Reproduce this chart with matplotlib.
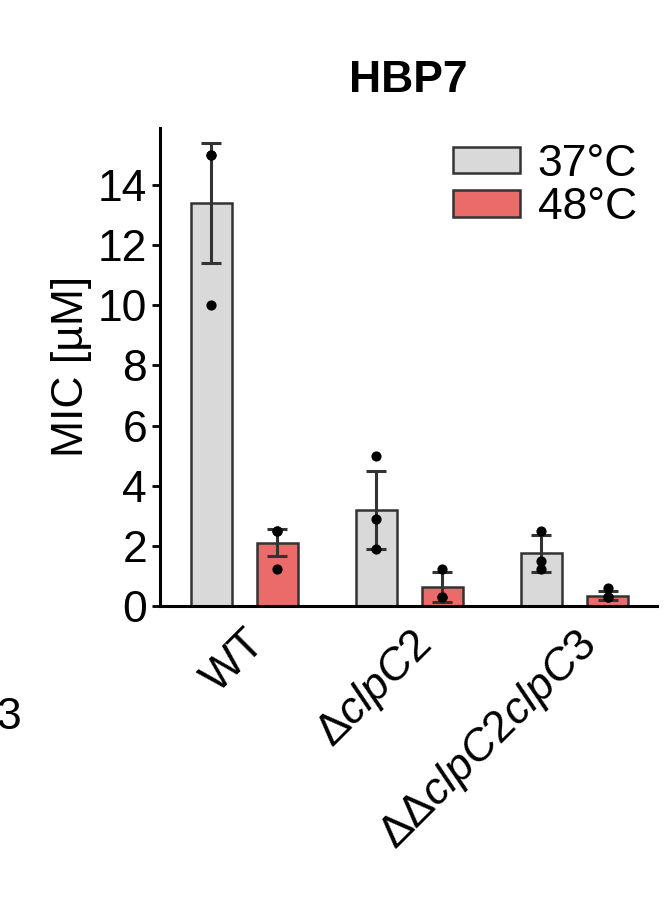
import numpy as np
import matplotlib.pyplot as plt

plt.rcParams['font.family'] = 'Liberation Sans'
plt.rcParams['mathtext.fontset'] = 'custom'
plt.rcParams['mathtext.rm'] = 'Liberation Sans'
plt.rcParams['mathtext.it'] = 'Liberation Sans:italic'

strains = ['WT', r'$\mathit{\Delta clpC2}$', r'$\mathit{\Delta\Delta clpC2clpC3}$']
mean_37 = [13.4, 3.2, 1.75]
sd_37 = [2.0, 1.3, 0.6]
mean_48 = [2.1, 0.63, 0.35]
sd_48 = [0.45, 0.5, 0.15]
pts_37 = [[15.0, 15.0, 10.0], [5.0, 2.9, 1.9], [2.5, 1.25, 1.5]]
pts_48 = [[2.5, 2.5, 1.25], [1.25, 0.3, 0.3], [0.6, 0.3, 0.3]]

fig = plt.figure(figsize=(6.65, 9.06), dpi=100)
ax = fig.add_axes([0.241, 0.331, 0.747, 0.528])

x = np.arange(len(strains))
off = 0.2
w = 0.245
ax.bar(x - off, mean_37, w, color='#d9d9d9', edgecolor='#333333', lw=1.8, label='37°C', zorder=1)
ax.bar(x + off, mean_48, w, color='#eb6b6b', edgecolor='#333333', lw=1.8, label='48°C', zorder=1)
ax.errorbar(x - off, mean_37, yerr=sd_37, fmt='none', ecolor='#333333', elinewidth=2.2, capsize=7, capthick=2.2, zorder=3)
ax.errorbar(x + off, mean_48, yerr=sd_48, fmt='none', ecolor='#333333', elinewidth=2.2, capsize=7, capthick=2.2, zorder=3)
for i in range(len(strains)):
    ax.scatter([x[i] - off] * 3, pts_37[i], s=40, color='black', zorder=4)
    ax.scatter([x[i] + off] * 3, pts_48[i], s=40, color='black', zorder=4)

ax.set_xlim(-0.51, 2.5)
ax.set_ylim(0, 15.9)
ax.set_yticks(range(0, 15, 2))
ax.set_xticks(x)
ax.set_xticklabels(strains, rotation=45, ha='right', rotation_mode='anchor', fontsize=32)
ax.tick_params(axis='y', labelsize=32, width=2, length=6)
ax.tick_params(axis='x', length=0, pad=12)
ax.set_ylabel('MIC [µM]', fontsize=32)
for s in ['top', 'right']:
    ax.spines[s].set_visible(False)
for s in ['left', 'bottom']:
    ax.spines[s].set_linewidth(2.2)
ax.set_title('HBP7', fontsize=32, fontweight='bold', pad=26)
ax.legend(loc='upper right', bbox_to_anchor=(1.04, 1.05), fontsize=32, frameon=False,
          handlelength=1.5, handleheight=0.55, handletextpad=0.4, labelspacing=0.05)
fig.text(-0.005, 0.195, '3', fontsize=32)

fig.savefig('out.png', dpi=100)
